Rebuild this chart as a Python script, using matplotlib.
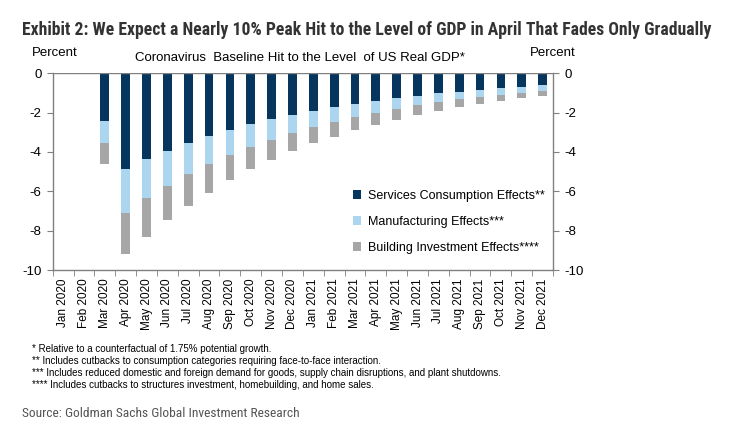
import matplotlib

matplotlib.use("Agg")
import matplotlib.pyplot as plt
import numpy as np

plt.rcParams["font.family"] = ["Liberation Sans", "DejaVu Sans"]
plt.rcParams["axes.unicode_minus"] = False

months = [
    "Jan 2020", "Feb 2020", "Mar 2020", "Apr 2020", "May 2020", "Jun 2020",
    "Jul 2020", "Aug 2020", "Sep 2020", "Oct 2020", "Nov 2020", "Dec 2020",
    "Jan 2021", "Feb 2021", "Mar 2021", "Apr 2021", "May 2021", "Jun 2021",
    "Jul 2021", "Aug 2021", "Sep 2021", "Oct 2021", "Nov 2021", "Dec 2021",
]
# cumulative levels (bottom of each segment)
services_end = [0.0, 0.0, -2.42, -4.88, -4.37, -3.94, -3.55, -3.19, -2.88, -2.57, -2.32, -2.11,
                -1.91, -1.71, -1.55, -1.40, -1.24, -1.14, -0.99, -0.94, -0.84, -0.73, -0.68, -0.58]
manuf_end = [0.0, -0.05, -3.55, -7.08, -6.35, -5.75, -5.14, -4.62, -4.16, -3.76, -3.39, -3.04,
             -2.73, -2.48, -2.22, -2.01, -1.81, -1.60, -1.45, -1.30, -1.20, -1.09, -0.99, -0.89]
building_end = [0.0, -0.05, -4.62, -9.18, -8.31, -7.44, -6.73, -6.06, -5.44, -4.88, -4.42, -3.96,
                -3.55, -3.25, -2.88, -2.63, -2.37, -2.11, -1.91, -1.71, -1.55, -1.40, -1.24, -1.14]

services = np.array(services_end)
manufacturing = np.array(manuf_end) - services
building = np.array(building_end) - np.array(manuf_end)

c_serv = "#06365e"
c_manu = "#acd5f0"
c_build = "#a6a6a6"
c_axis = "#808080"
narrow = ["Roboto Condensed", "Roboto", "DejaVu Sans"]

fig = plt.figure(figsize=(7.32, 4.48), dpi=100)
ax = fig.add_axes([0.072, 0.3973, 0.6835, 0.4391])

x = np.arange(len(months))
w = 0.42
ax.bar(x, services, w, color=c_serv, label="Services Consumption Effects**")
ax.bar(x, manufacturing, w, bottom=services, color=c_manu, label="Manufacturing Effects***")
ax.bar(x, building, w, bottom=services + manufacturing, color=c_build,
       label="Building Investment Effects****")

ax.set_xlim(-0.5, len(months) - 0.5)
ax.set_ylim(-10, 0)
ax.axhline(0, color=c_axis, linewidth=1.0)

for side in ["left", "right", "bottom"]:
    ax.spines[side].set_color(c_axis)
    ax.spines[side].set_linewidth(1.0)
ax.spines["top"].set_visible(False)

ax.set_xticks(x)
ax.set_xticklabels(months, rotation=90, fontsize=8.5)
ax.tick_params(axis="x", length=0, pad=6)
ax.set_xticks(np.arange(-0.5, len(months)), minor=True)
ax.tick_params(axis="x", which="minor", length=4, color=c_axis, direction="out")

ax.set_yticks([0, -2, -4, -6, -8, -10])
ax.yaxis.set_ticks_position("both")
ax.tick_params(axis="y", labelright=True, labelsize=9.5, length=4, color=c_axis,
               direction="out", pad=4)

ax.legend(loc="lower right", bbox_to_anchor=(1.005, 0.025), frameon=False, fontsize=9,
          handlelength=0.7, handleheight=0.7, handletextpad=0.5, labelspacing=1.12)

fig.text(0.030, 0.933, "Exhibit 2: We Expect a Nearly 10% Peak Hit to the Level of GDP in April That Fades Only Gradually",
         fontsize=12.7, fontweight="bold", color="#333333", family=narrow, va="center")
fig.text(0.044, 0.882, "Percent", fontsize=9.5, va="center")
fig.text(0.724, 0.882, "Percent", fontsize=9.5, va="center")
fig.text(0.410, 0.870, "Coronavirus  Baseline Hit to the Level  of US Real GDP*", fontsize=9.5,
         ha="center", va="center")

notes = [
    "* Relative to a counterfactual of 1.75% potential growth.",
    "** Includes cutbacks to consumption categories requiring face-to-face interaction.",
    "*** Includes reduced domestic and foreign demand for goods, supply chain disruptions, and plant shutdowns.",
    "**** Includes cutbacks to structures investment, homebuilding, and home sales.",
]
for i, n in enumerate(notes):
    fig.text(0.044, 0.221 - i * 0.0265, n, fontsize=7, va="center")

fig.text(0.030, 0.077, "Source: Goldman Sachs Global Investment Research", fontsize=9.7, color="#555555",
         family=narrow, va="center")

fig.savefig("out.png", dpi=100)
